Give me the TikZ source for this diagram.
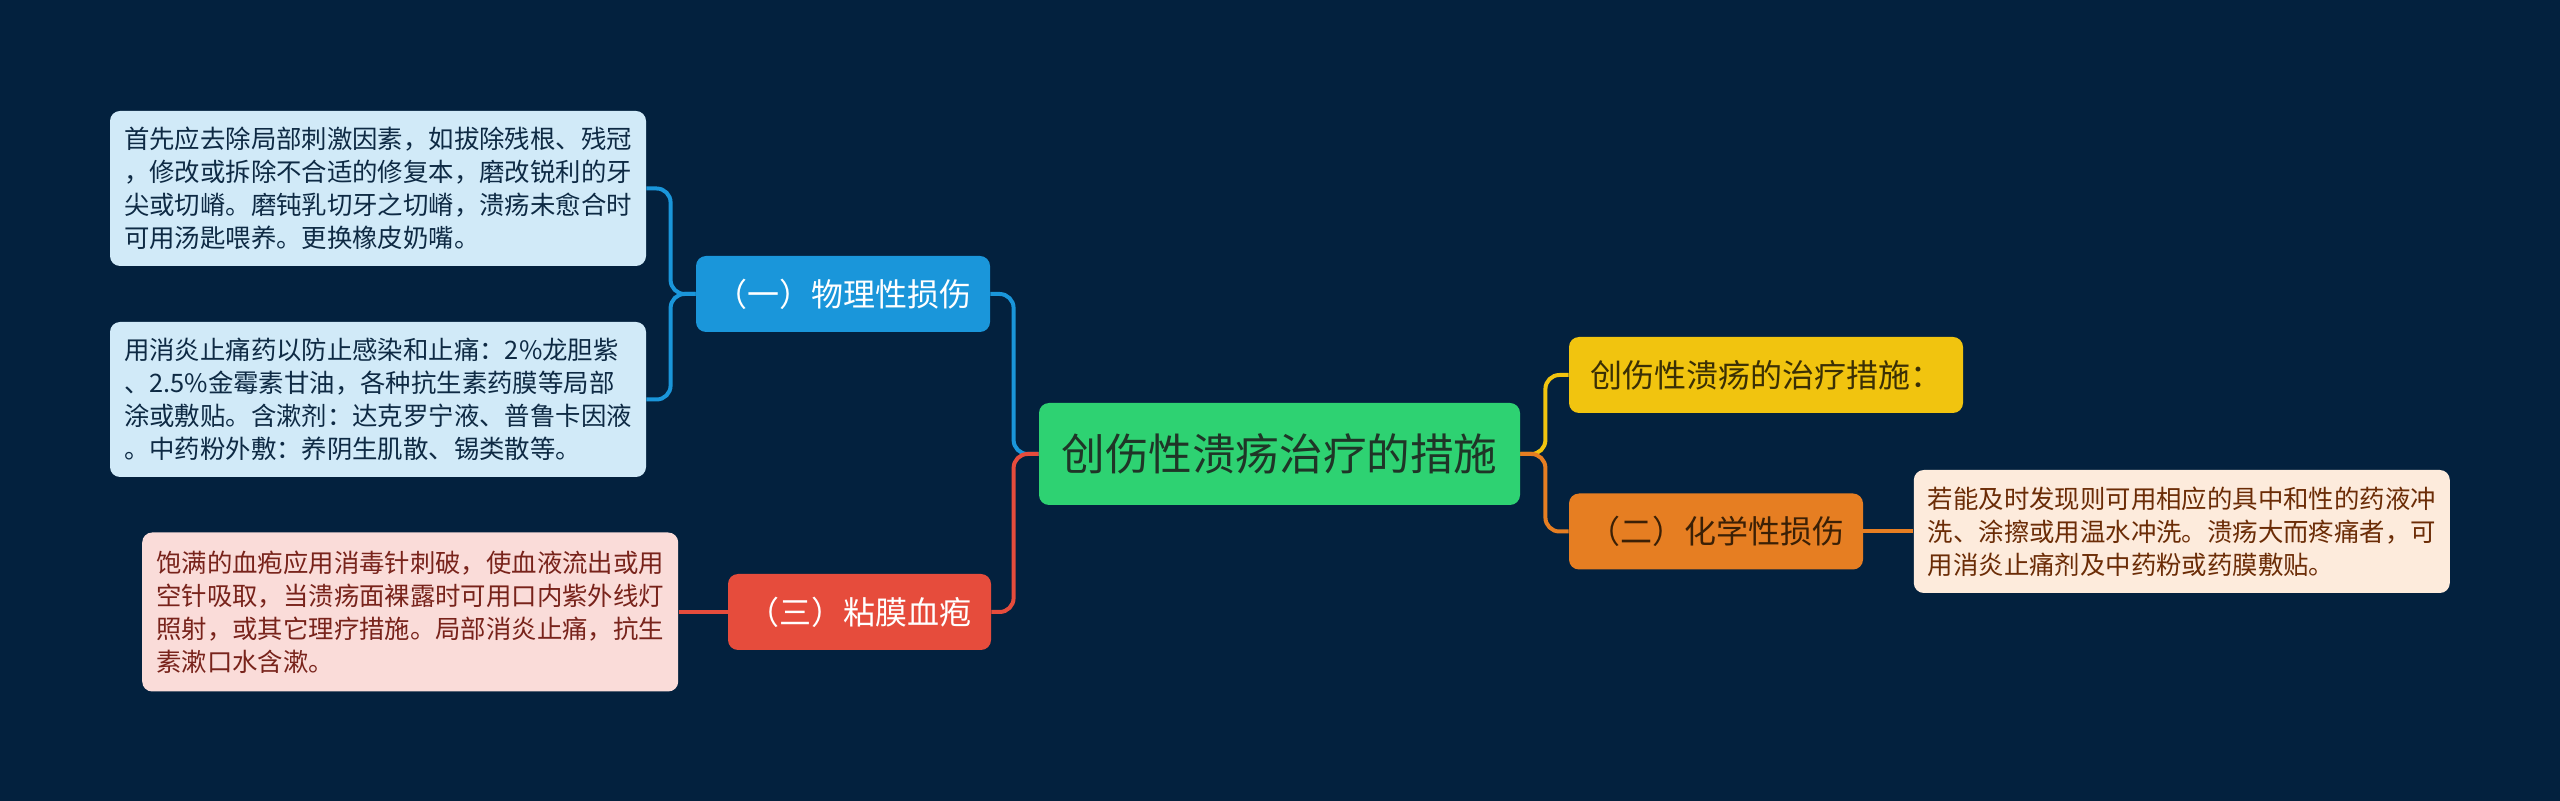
\documentclass[tikz,border=0pt]{standalone}
\usepackage{fontspec}
\setmainfont{Noto Sans CJK SC}
\usepackage{xcolor}
\usepackage{tikz}
\usetikzlibrary{positioning}
\definecolor{bgnavy}{HTML}{03213E}
\definecolor{rootgreen}{HTML}{2ED272}
\definecolor{roottext}{HTML}{1F3527}
\definecolor{topicblue}{HTML}{1A96DA}
\definecolor{leafblue}{HTML}{D1EAF8}
\definecolor{textblue}{HTML}{0E2A44}
\definecolor{topicred}{HTML}{E64C3C}
\definecolor{leafpink}{HTML}{FADCD9}
\definecolor{textred}{HTML}{78231B}
\definecolor{topicyellow}{HTML}{F1C40F}
\definecolor{textyellow}{HTML}{3A2F05}
\definecolor{topicorange}{HTML}{E67E22}
\definecolor{textorange}{HTML}{3B2006}
\definecolor{leafpeach}{HTML}{FDEBDC}
\definecolor{textbrown}{HTML}{6B2C06}
\tikzstyle{topic} = [rectangle, rounded corners=5pt, text centered, minimum height=38pt, font=\fontsize{16}{20}\selectfont]
\tikzstyle{leaf} = [rectangle, rounded corners=5pt, align=left, minimum width=268pt, font=\fontsize{12.7}{16.5}\selectfont]
\tikzstyle{link} = [line width=2pt, rounded corners=7pt]

\begin{document}
\begin{tikzpicture}[x=0.5pt, y=-0.5pt]
    \fill[bgnavy] (0,0) rectangle (2560,801);
    \useasboundingbox (0,0) rectangle (2560,801);
    % centre and main topics
    \node (root) [rectangle, rounded corners=5pt, fill=rootgreen, text=roottext, minimum width=240.5pt, minimum height=51pt, font=\fontsize{21.8}{26}\selectfont] at (1279.5,454) {创伤性溃疡治疗的措施};
    \node (b1) [topic, fill=topicblue, text=white, minimum width=147pt] at (843,294) {（一）物理性损伤};
    \node (b3) [topic, fill=topicred, text=white, minimum width=131.5pt] at (859.5,612) {（三）粘膜血疱};
    \node (b0) [topic, fill=topicyellow, text=textyellow, minimum width=197pt] at (1766,375) {创伤性溃疡的治疗措施：};
    \node (b2) [topic, fill=topicorange, text=textorange, minimum width=147pt] at (1716,531.5) {（二）化学性损伤};
    % leaves
    \node (l1) [leaf, fill=leafblue, text=textblue, minimum height=77.5pt] at (378,188.5) {首先应去除局部刺激因素，如拔除残根、残冠\\，修改或拆除不合适的修复本，磨改锐利的牙\\尖或切嵴。磨钝乳切牙之切嵴，溃疡未愈合时\\可用汤匙喂养。更换橡皮奶嘴。};
    \node (l2) [leaf, fill=leafblue, text=textblue, minimum height=77.5pt] at (378,399.5) {用消炎止痛药以防止感染和止痛：2\%龙胆紫\\、2.5\%金霉素甘油，各种抗生素药膜等局部\\涂或敷贴。含漱剂：达克罗宁液、普鲁卡因液\\。中药粉外敷：养阴生肌散、锡类散等。};
    \node (l3) [leaf, fill=leafpink, text=textred, minimum height=79.5pt, left=24.5pt of b3] {饱满的血疱应用消毒针刺破，使血液流出或用\\空针吸取，当溃疡面裸露时可用口内紫外线灯\\照射，或其它理疗措施。局部消炎止痛，抗生\\素漱口水含漱。};
    \node (l4) [leaf, fill=leafpeach, text=textbrown, minimum height=61.5pt, right=25pt of b2] {若能及时发现则可用相应的具中和性的药液冲\\洗、涂擦或用温水冲洗。溃疡大而疼痛者，可\\用消炎止痛剂及中药粉或药膜敷贴。};
    % connectors
    \draw[link, topicblue] (root.west) -- ++(-25,0) |- (b1.east);
    \draw[link, topicblue] (b1.west) -- ++(-25,0) |- (l1.east);
    \draw[link, topicblue] (b1.west) -- ++(-25,0) |- (l2.east);
    \draw[link, topicred] (root.west) -- ++(-25,0) |- (b3.east);
    \draw[link, topicred] (b3.west) -- (l3.east);
    \draw[link, topicyellow] (root.east) -- ++(25,0) |- (b0.west);
    \draw[link, topicorange] (root.east) -- ++(25,0) |- (b2.west);
    \draw[link, topicorange] (b2.east) -- (l4.west);
\end{tikzpicture}
\end{document}
